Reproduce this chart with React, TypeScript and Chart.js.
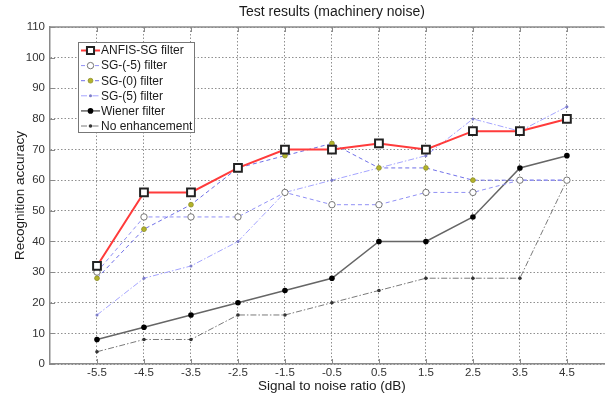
import React, { useEffect, useRef } from 'react';
import { Chart, registerables } from 'chart.js';

Chart.register(...registerables);

const chartTitle = 'Test results (machinery noise)';
const xAxisTitle = 'Signal to noise ratio (dB)';
const yAxisTitle = 'Recognition accuracy';

const snrTicks = [-5.5, -4.5, -3.5, -2.5, -1.5, -0.5, 0.5, 1.5, 2.5, 3.5, 4.5];
const yTicks = [0, 10, 20, 30, 40, 50, 60, 70, 80, 90, 100, 110];

const seriesLabels = [
  'ANFIS-SG filter',
  'SG-(-5) filter',
  'SG-(0) filter',
  'SG-(5) filter',
  'Wiener filter',
  'No enhancement',
];

const anfisSG = [32, 56, 56, 64, 70, 70, 72, 70, 76, 76, 80];
const sgMinus5 = [30, 48, 48, 48, 56, 52, 52, 56, 56, 60, 60];
const sgZero = [28, 44, 52, 64, 68, 72, 64, 64, 60, 60, 60];
const sgPlus5 = [16, 28, 32, 40, 56, 60, 64, 68, 80, 76, 84];
const wiener = [8, 12, 16, 20, 24, 28, 40, 40, 48, 64, 68];
const noEnhancement = [4, 8, 8, 16, 16, 20, 24, 28, 28, 28, 60];

const FONT = '"Liberation Sans", Arial, sans-serif';

const toPoints = (vals: number[]) => vals.map((v, i) => ({ x: snrTicks[i], y: v }));

function drawMarker(
  ctx: CanvasRenderingContext2D,
  style: string,
  x: number,
  y: number,
  r: number,
  bg: string,
  border: string,
  bw: number
) {
  if (r <= 0) return;
  ctx.save();
  ctx.setLineDash([]);
  ctx.fillStyle = bg;
  ctx.strokeStyle = border;
  ctx.lineWidth = bw;
  ctx.beginPath();
  if (style === 'rect') {
    const s = r * Math.SQRT1_2;
    ctx.rect(x - s, y - s, 2 * s, 2 * s);
  } else {
    ctx.arc(x, y, r, 0, Math.PI * 2);
  }
  ctx.fill();
  if (bw > 0) ctx.stroke();
  ctx.restore();
}

const decorPlugin = {
  id: 'decor',
  afterDraw(chart: any) {
    const ctx: CanvasRenderingContext2D = chart.ctx;
    const area = chart.chartArea;
    const xs = chart.scales.x;
    const ys = chart.scales.y;
    const axisColor = '#8a8a8a';
    const centerX = xs.getPixelForValue(-0.5);

    ctx.save();
    // top border
    ctx.strokeStyle = axisColor;
    ctx.lineWidth = 1.5;
    ctx.setLineDash([]);
    ctx.beginPath();
    ctx.moveTo(area.left, area.top);
    ctx.lineTo(area.right, area.top);
    ctx.stroke();

    // inner tick marks
    ctx.lineWidth = 1;
    ctx.beginPath();
    snrTicks.forEach((v) => {
      const px = Math.round(xs.getPixelForValue(v)) + 0.5;
      ctx.moveTo(px, area.top);
      ctx.lineTo(px, area.top + 5);
      ctx.moveTo(px, area.bottom);
      ctx.lineTo(px, area.bottom - 5);
    });
    yTicks.forEach((v) => {
      const py = Math.round(ys.getPixelForValue(v)) + 0.5;
      ctx.moveTo(area.left, py);
      ctx.lineTo(area.left + 5, py);
    });
    ctx.stroke();

    // titles
    ctx.fillStyle = '#1a1a1a';
    ctx.textAlign = 'center';
    ctx.textBaseline = 'middle';
    ctx.font = `14px ${FONT}`;
    ctx.fillText(chartTitle, centerX, 12);
    ctx.font = `13.5px ${FONT}`;
    ctx.fillText(xAxisTitle, centerX, 386);
    ctx.save();
    ctx.translate(20, (area.top + area.bottom) / 2);
    ctx.rotate(-Math.PI / 2);
    ctx.fillText(yAxisTitle, 0, 0);
    ctx.restore();

    // legend
    const lx = 78;
    const ly = 42;
    const lw = 116;
    const lh = 90;
    ctx.fillStyle = '#ffffff';
    ctx.fillRect(lx, ly, lw, lh);
    ctx.strokeStyle = '#777777';
    ctx.lineWidth = 1;
    ctx.strokeRect(lx + 0.5, ly + 0.5, lw, lh);

    ctx.font = `12px ${FONT}`;
    ctx.textAlign = 'left';
    ctx.textBaseline = 'middle';
    chart.data.datasets.forEach((ds: any, i: number) => {
      const cy = ly + 8.5 + i * 15.1;
      ctx.save();
      ctx.strokeStyle = ds.borderColor;
      ctx.lineWidth = ds.borderWidth;
      ctx.setLineDash(ds.borderDash || []);
      ctx.beginPath();
      ctx.moveTo(lx + 3, cy);
      ctx.lineTo(lx + 22, cy);
      ctx.stroke();
      ctx.restore();
      drawMarker(
        ctx,
        ds.pointStyle,
        lx + 12.5,
        cy,
        ds.pointStyle === 'rect' ? 5 : ds.pointRadius,
        ds.pointBackgroundColor,
        ds.pointBorderColor,
        ds.pointBorderWidth
      );
      ctx.fillStyle = '#1a1a1a';
      ctx.fillText(ds.label, lx + 23, cy + 0.5);
    });
    ctx.restore();
  },
};

export default function App() {
  const canvasRef = useRef<HTMLCanvasElement | null>(null);

  useEffect(() => {
    if (!canvasRef.current) return;
    const chart = new Chart(canvasRef.current, {
      type: 'line',
      data: {
        datasets: [
          {
            label: seriesLabels[0],
            data: toPoints(anfisSG),
            borderColor: '#ff3b3b',
            borderWidth: 2,
            pointStyle: 'rect',
            pointRadius: 5.5,
            pointBackgroundColor: '#ffffff',
            pointBorderColor: '#222222',
            pointBorderWidth: 2,
          },
          {
            label: seriesLabels[1],
            data: toPoints(sgMinus5),
            borderColor: '#9090f5',
            borderWidth: 1,
            borderDash: [4, 3],
            pointStyle: 'circle',
            pointRadius: 3.2,
            pointBackgroundColor: '#ffffff',
            pointBorderColor: '#777777',
            pointBorderWidth: 1,
          },
          {
            label: seriesLabels[2],
            data: toPoints(sgZero),
            borderColor: '#7070e8',
            borderWidth: 1,
            borderDash: [4, 3],
            pointStyle: 'circle',
            pointRadius: 2.4,
            pointBackgroundColor: '#b3b32a',
            pointBorderColor: '#8e8e2a',
            pointBorderWidth: 0.8,
          },
          {
            label: seriesLabels[3],
            data: toPoints(sgPlus5),
            borderColor: '#a4a4ff',
            borderWidth: 1,
            borderDash: [6, 2, 1.5, 2],
            pointStyle: 'circle',
            pointRadius: 1.5,
            pointBackgroundColor: '#7c7cc8',
            pointBorderColor: '#7c7cc8',
            pointBorderWidth: 0,
          },
          {
            label: seriesLabels[4],
            data: toPoints(wiener),
            borderColor: '#666666',
            borderWidth: 1.5,
            pointStyle: 'circle',
            pointRadius: 2.8,
            pointBackgroundColor: '#000000',
            pointBorderColor: '#000000',
            pointBorderWidth: 0,
          },
          {
            label: seriesLabels[5],
            data: toPoints(noEnhancement),
            borderColor: '#7a7a7a',
            borderWidth: 1,
            borderDash: [6, 2, 1.5, 2],
            pointStyle: 'circle',
            pointRadius: 1.8,
            pointBackgroundColor: '#333333',
            pointBorderColor: '#333333',
            pointBorderWidth: 0,
          },
        ],
      },
      options: {
        responsive: false,
        animation: false,
        events: [],
        layout: { padding: { top: 27, left: 0, right: 0, bottom: 0 } },
        plugins: {
          legend: { display: false },
          title: { display: false },
          tooltip: { enabled: false },
        },
        elements: { line: { tension: 0 } },
        scales: {
          x: {
            type: 'linear',
            min: -6.5,
            max: 5.3,
            afterBuildTicks: (s: any) => {
              s.ticks = snrTicks.map((v) => ({ value: v }));
            },
            afterFit: (s: any) => {
              s.height = 34;
            },
            ticks: {
              font: { size: 11.5, family: FONT },
              color: '#333333',
              padding: 2,
              maxRotation: 0,
              autoSkip: false,
              callback: (v: any) => Number(v).toFixed(1),
            },
            grid: { color: '#8f8f8f', lineWidth: 1, drawTicks: false },
            border: { display: true, color: '#8a8a8a', width: 1.5, dash: [1.5, 2] },
          },
          y: {
            min: 0,
            max: 110,
            afterBuildTicks: (s: any) => {
              s.ticks = yTicks.map((v) => ({ value: v }));
            },
            afterFit: (s: any) => {
              s.width = 50;
            },
            ticks: {
              font: { size: 11.5, family: FONT },
              color: '#333333',
              padding: 5,
            },
            grid: { color: '#8f8f8f', lineWidth: 1, drawTicks: false },
            border: { display: true, color: '#8a8a8a', width: 1.5, dash: [1.5, 2] },
          },
        },
      },
      plugins: [decorPlugin],
    } as any);
    return () => chart.destroy();
  }, []);

  return (
    <div style={{ position: 'fixed', left: 0, top: 0, width: 612, height: 398, background: '#ffffff' }}>
      <canvas ref={canvasRef} width={612} height={398} style={{ width: 612, height: 398, display: 'block' }} />
    </div>
  );
}
